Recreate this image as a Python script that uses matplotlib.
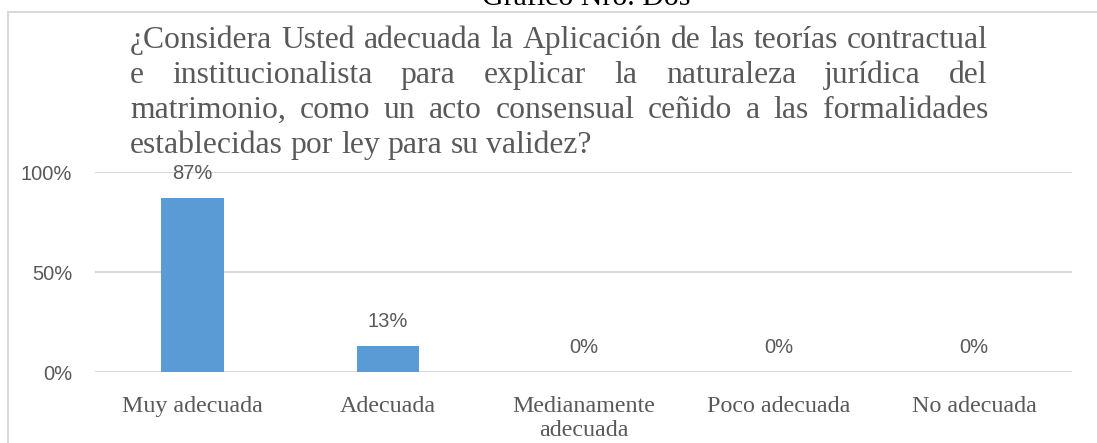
import matplotlib
matplotlib.use("Agg")
import matplotlib.pyplot as plt
from matplotlib.patches import Rectangle

categorias = ["Muy adecuada", "Adecuada", "Medianamente\nadecuada", "Poco adecuada", "No adecuada"]
valores = [0.87, 0.13, 0.0, 0.0, 0.0]
etiquetas = ["87%", "13%", "0%", "0%", "0%"]
ticks_y = [0, 0.5, 1.0]
ticks_y_txt = ["0%", "50%", "100%"]
titulo = [
    "¿Considera Usted adecuada la Aplicación de las teorías contractual",
    "e institucionalista para explicar la naturaleza jurídica del",
    "matrimonio, como un acto consensual ceñido a las formalidades",
    "establecidas por ley para su validez?",
]
encabezado = "Gráfico Nro. Dos"

W, H = 1097, 443
gris = "#595959"
serif = "Liberation Serif"
sans = "Liberation Sans"
tam_tit = 22.8

fig = plt.figure(figsize=(W / 100, H / 100), dpi=100)

# marco del grafico
fig.patches.append(Rectangle((8 / W, -0.1), 1.2, 1 - 12 / H + 0.1, transform=fig.transFigure,
                             fill=False, edgecolor="#d9d9d9", lw=1.5))

ax = fig.add_axes([95 / W, 1 - 372 / H, (1072 - 95) / W, 200 / H])
x = list(range(len(categorias)))
ax.bar(x, valores, width=0.32, color="#5b9bd5", zorder=3)
ax.set_xlim(-0.5, len(categorias) - 0.5)
ax.set_ylim(0, 1)
ax.set_yticks(ticks_y)
ax.set_yticklabels(ticks_y_txt, fontsize=14.5, color=gris, family=sans)
ax.set_xticks(x)
ax.set_xticklabels(categorias, fontsize=17.3, color=gris, family=serif, linespacing=1.2, va="top")
ax.tick_params(axis="y", length=0, pad=16.5)
ax.tick_params(axis="x", length=0, pad=17)
ax.grid(axis="y", color="#d9d9d9", lw=1.5, zorder=0)
for s in ax.spines.values():
    s.set_visible(False)
ax.set_facecolor("none")

for xi, v, t in zip(x, valores, etiquetas):
    ax.annotate(t, (xi, v), xytext=(0, 17.5), textcoords="offset points",
                ha="center", va="center", fontsize=14.5, color=gris, family=sans)

# encabezado cortado arriba (como en la imagen original)
fig.text(586 / W, 1 - 5 / H, encabezado, ha="center", va="baseline",
         fontsize=21.5, family=serif, color="black")

# titulo justificado
fig.canvas.draw()
r = fig.canvas.get_renderer()
izq, der = 130, 988
bases = [48, 83, 118, 153]
for i, (linea, yb) in enumerate(zip(titulo, bases)):
    palabras = linea.split(" ")
    arts = [fig.text(0, 1 - yb / H, p, fontsize=tam_tit, family=serif, color=gris,
                     ha="left", va="baseline") for p in palabras]
    anchos = [a.get_window_extent(r).width for a in arts]
    if i < len(titulo) - 1 and len(palabras) > 1:
        hueco = (der - izq - sum(anchos)) / (len(palabras) - 1)
    else:
        esp = fig.text(0, 0, "a a", fontsize=tam_tit, family=serif)
        esp2 = fig.text(0, 0, "aa", fontsize=tam_tit, family=serif)
        hueco = esp.get_window_extent(r).width - esp2.get_window_extent(r).width
        esp.remove()
        esp2.remove()
    pos = izq
    for a, w in zip(arts, anchos):
        a.set_x(pos / W)
        pos += w + hueco

fig.savefig("out.png", dpi=100)
